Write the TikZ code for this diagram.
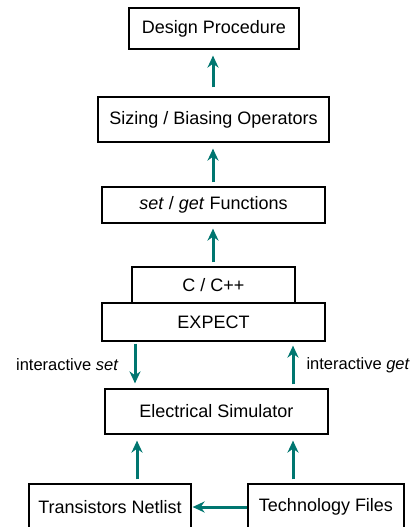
\documentclass[tikz,border=0pt]{standalone}
\usepackage{fontspec}
\setmainfont{Liberation Sans}
\usetikzlibrary{arrows.meta}
\definecolor{flowteal}{RGB}{0,118,112}
\tikzset{
    box/.style={draw, line width=1.2pt, inner sep=0pt, font=\fontsize{18}{21}\selectfont},
    flow/.style={draw=flowteal, line width=3pt, -{Stealth[length=12pt, width=11pt]}},
    lbl/.style={inner sep=0pt, font=\fontsize{16.5}{19}\selectfont}
}

\begin{document}
\begin{tikzpicture}[x=1pt, y=-1pt]
    \clip (0,0) rectangle (416,527);
    \node [box, minimum width=170pt, minimum height=41pt] (design) at (214,28.5) {Design Procedure};
    \node [box, minimum width=231pt, minimum height=45pt] (sizing) at (213.5,119.5) {Sizing / Biasing Operators};
    \node [box, minimum width=223pt, minimum height=36pt] (setget) at (213.5,205) {\textit{set} / \textit{get} Functions};
    \node [box, minimum width=163pt, minimum height=36pt] (cpp) at (213.5,285) {C / C++};
    \node [box, minimum width=223pt, minimum height=38pt] (expect) at (213.5,322) {EXPECT};
    \node [box, minimum width=223pt, minimum height=45pt] (sim) at (216.5,411.5) {Electrical Simulator};
    \node [box, minimum width=162pt, minimum height=46pt] (netlist) at (110,507) {Transistors Netlist};
    \node [box, minimum width=156pt, minimum height=46pt] (tech) at (326,507) {Technology Files};
    \coordinate (mid) at (213,0);
    \coordinate (setcol) at (135,0);
    \coordinate (getcol) at (293,0);
    \coordinate (netcol) at (137,0);
    \draw [flow, shorten <=9pt, shorten >=6pt] (sizing.north -| mid) -- (design.south -| mid);
    \draw [flow, shorten <=4pt, shorten >=6pt] (setget.north -| mid) -- (sizing.south -| mid);
    \draw [flow, shorten <=4pt, shorten >=5pt] (cpp.north -| mid) -- (setget.south -| mid);
    \draw [flow, shorten <=2pt, shorten >=5pt] (expect.south -| setcol) -- (sim.north -| setcol)
        node [lbl, midway, left=15pt] {interactive \textit{set}};
    \draw [flow, shorten <=4pt, shorten >=4pt] (sim.north -| getcol) -- (expect.south -| getcol)
        node [lbl, midway, right=12pt] {interactive \textit{get}};
    \draw [flow, shorten <=4pt, shorten >=6pt] (netlist.north -| netcol) -- (sim.south -| netcol);
    \draw [flow, shorten <=4pt, shorten >=6pt] (tech.north -| getcol) -- (sim.south -| getcol);
    \draw [flow, shorten >=1pt] (tech.west) -- (netlist.east);
\end{tikzpicture}
\end{document}
